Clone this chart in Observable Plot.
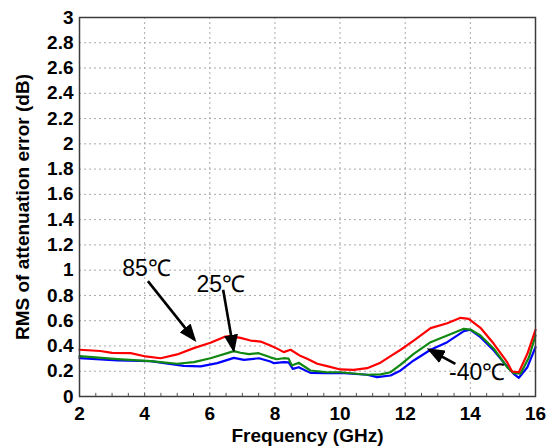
<!DOCTYPE html>
<html>
<head>
<meta charset="utf-8">
<script src="https://cdn.jsdelivr.net/npm/d3@7"></script>
<script src="https://cdn.jsdelivr.net/npm/@observablehq/plot@0.6"></script>
<style>
  body { margin: 0; background: #fff; }
  #chart svg, #chart svg text { font-family: "Liberation Sans", Arial, sans-serif !important; }
</style>
</head>
<body>
<div id="chart"></div>
<script>
// RMS attenuation error vs frequency at three temperatures
const freq85 = [2.0, 2.64, 3.0, 3.57, 4.03, 4.49, 5.0, 5.51, 6.02, 6.48, 6.62, 6.94, 7.25, 7.56, 7.86, 8.1, 8.27, 8.48, 8.79, 8.99, 9.3, 9.6, 10.01, 10.42, 10.83, 11.24, 11.55, 11.86, 12.26, 12.78, 13.29, 13.7, 13.95, 14.31, 14.72, 15.13, 15.28, 15.49, 15.75, 16.0];
const rms85  = [0.37, 0.36, 0.345, 0.343, 0.317, 0.303, 0.333, 0.383, 0.425, 0.475, 0.478, 0.464, 0.443, 0.435, 0.404, 0.375, 0.351, 0.37, 0.32, 0.298, 0.259, 0.24, 0.214, 0.211, 0.224, 0.268, 0.32, 0.37, 0.443, 0.541, 0.58, 0.623, 0.615, 0.544, 0.417, 0.272, 0.198, 0.192, 0.338, 0.528];

const freq25 = [2.0, 3.16, 4.18, 5.0, 5.51, 6.02, 6.74, 6.94, 7.2, 7.5, 7.86, 8.05, 8.27, 8.42, 8.52, 8.73, 9.09, 9.6, 10.01, 10.83, 11.24, 11.55, 11.86, 12.26, 12.78, 13.29, 13.8, 14.0, 14.31, 14.72, 15.13, 15.33, 15.54, 15.8, 16.0];
const rms25  = [0.32, 0.296, 0.28, 0.259, 0.272, 0.303, 0.359, 0.346, 0.335, 0.343, 0.31, 0.295, 0.303, 0.3, 0.245, 0.267, 0.206, 0.192, 0.192, 0.172, 0.175, 0.192, 0.253, 0.338, 0.43, 0.483, 0.536, 0.53, 0.483, 0.378, 0.232, 0.185, 0.18, 0.311, 0.483];

const freqM40 = [2.0, 3.16, 4.18, 5.2, 5.72, 6.23, 6.74, 7.05, 7.51, 7.86, 7.97, 8.27, 8.42, 8.55, 8.73, 9.09, 9.6, 10.01, 10.83, 11.14, 11.55, 11.86, 12.26, 12.78, 13.29, 13.8, 14.0, 14.31, 14.72, 15.13, 15.33, 15.49, 15.75, 16.0];
const rmsM40  = [0.303, 0.285, 0.28, 0.243, 0.238, 0.264, 0.306, 0.29, 0.303, 0.277, 0.264, 0.272, 0.27, 0.219, 0.232, 0.187, 0.185, 0.187, 0.172, 0.153, 0.166, 0.206, 0.285, 0.37, 0.43, 0.517, 0.528, 0.47, 0.364, 0.238, 0.18, 0.148, 0.232, 0.39];

// Axis ticks
const xTicks = [2, 4, 6, 8, 10, 12, 14, 16];
const xMinorTicks = [2.5, 3, 3.5, 4.5, 5, 5.5, 6.5, 7, 7.5, 8.5, 9, 9.5, 10.5, 11, 11.5, 12.5, 13, 13.5, 14.5, 15, 15.5];
const yTicks = [0, 0.2, 0.4, 0.6, 0.8, 1, 1.2, 1.4, 1.6, 1.8, 2, 2.2, 2.4, 2.6, 2.8, 3];

// Temperature callouts: label position and arrow (tail -> tip)
const calloutText = ["85\u2103", "25\u2103", "-40\u2103"];
const calloutX = [4.06, 6.34, 14.21];
const calloutY = [1.01, 0.887, 0.19];
const arrowX1 = [4.10, 6.41, 13.54];
const arrowY1 = [0.913, 0.845, 0.259];
const arrowX2 = [5.53, 6.73, 12.74];
const arrowY2 = [0.45, 0.37, 0.37];

const series = (fs, vs) => fs.map((f, i) => ({f, v: vs[i]}));

const font = "'Liberation Sans', Arial, sans-serif";
const gridStyle = {stroke: "#a8a8a8", strokeOpacity: 1, strokeWidth: 1, strokeDasharray: "2,3"};

const chart = Plot.plot({
  width: 549,
  height: 448,
  marginLeft: 79,
  marginRight: 14,
  marginTop: 17,
  marginBottom: 52,
  style: {fontFamily: font, background: "#fff", color: "#000"},
  x: {domain: [2, 16]},
  y: {domain: [0, 3]},
  marks: [
    Plot.gridX(xTicks.slice(1, -1), gridStyle),
    Plot.gridY(yTicks.slice(1, -1), gridStyle),
    Plot.ruleX(xMinorTicks.concat(xTicks), {y1: 0, y2: 0.025, stroke: "#555", strokeWidth: 1}),
    Plot.axisX(xTicks, {tickSize: 0, tickPadding: 10, fontSize: 19, fontWeight: "bold", fontFamily: font, label: null}),
    Plot.axisY(yTicks, {tickSize: 0, tickPadding: 6, fontSize: 19, fontWeight: "bold", fontFamily: font, label: null,
      tickFormat: d => String(+d.toFixed(1))}),
    Plot.text(["Frequency (GHz)"], {text: d => d, frameAnchor: "bottom", dy: 32, lineAnchor: "top",
      textAnchor: "middle", fontSize: 19, fontWeight: "bold", fontFamily: font}),
    Plot.text(["RMS of attenuation error (dB)"], {text: d => d, frameAnchor: "left", dx: -57, rotate: -90,
      textAnchor: "middle", lineAnchor: "middle", fontSize: 19, fontWeight: "bold", fontFamily: font}),
    Plot.line(series(freqM40, rmsM40), {x: "f", y: "v", stroke: "#0000ff", strokeWidth: 2.2}),
    Plot.line(series(freq25, rms25), {x: "f", y: "v", stroke: "#118811", strokeWidth: 2.2}),
    Plot.line(series(freq85, rms85), {x: "f", y: "v", stroke: "#ff0000", strokeWidth: 2.2}),
    Plot.frame({stroke: "#3c3c3c", strokeWidth: 1.5}),
    Plot.link(calloutText, {x1: arrowX1, y1: arrowY1, x2: arrowX2, y2: arrowY2, stroke: "#000", strokeWidth: 2.6}),
    Plot.text(calloutText, {x: calloutX, y: calloutY, text: d => d, fontSize: 23, fontWeight: "normal",
      fontFamily: font, lineAnchor: "middle", fill: "#000"})
  ]
});

// Filled arrowheads on the callout links
const ns = "http://www.w3.org/2000/svg";
const defs = document.createElementNS(ns, "defs");
const marker = document.createElementNS(ns, "marker");
marker.setAttribute("id", "callout-head");
marker.setAttribute("viewBox", "0 0 18 14");
marker.setAttribute("refX", "15");
marker.setAttribute("refY", "7");
marker.setAttribute("markerWidth", "18");
marker.setAttribute("markerHeight", "14");
marker.setAttribute("markerUnits", "userSpaceOnUse");
marker.setAttribute("orient", "auto");
const head = document.createElementNS(ns, "path");
head.setAttribute("d", "M0,0L18,7L0,14Z");
head.setAttribute("fill", "#000");
marker.appendChild(head);
defs.appendChild(marker);
chart.insertBefore(defs, chart.firstChild);
chart.querySelectorAll('g[aria-label="link"] path').forEach(p => p.setAttribute("marker-end", "url(#callout-head)"));

document.getElementById("chart").appendChild(chart);
</script>
</body>
</html>
